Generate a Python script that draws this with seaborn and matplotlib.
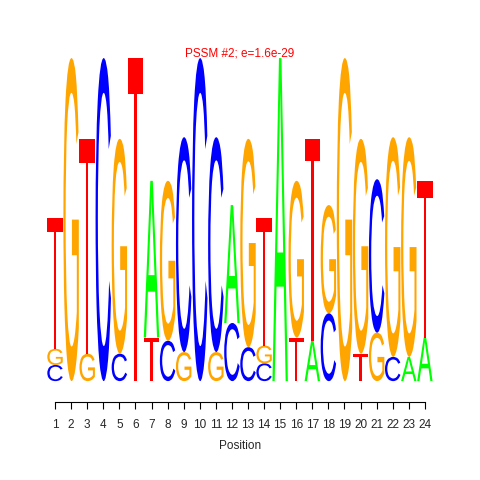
import matplotlib
matplotlib.use("Agg")
import matplotlib.pyplot as plt
import seaborn as sns
from matplotlib.textpath import TextPath
from matplotlib.patches import PathPatch
from matplotlib.font_manager import FontProperties
from matplotlib.transforms import Affine2D

# motif columns, letters listed bottom -> top with their heights in bits
positions = list(range(1, 25))
stack_letters = ["CGT", "G", "GT", "C", "CG", "T", "TA", "CG", "GC", "C", "GC", "CA",
                 "CG", "CGT", "A", "TG", "AT", "CG", "G", "TG", "GC", "CG", "AG", "AT"]
stack_bits = [
    [0.10, 0.10, 0.81], [2.0], [0.17, 1.33], [2.0], [0.17, 1.33], [2.0],
    [0.27, 0.97], [0.25, 0.99], [0.18, 1.33], [2.0], [0.18, 1.33], [0.36, 0.73],
    [0.21, 1.29], [0.11, 0.11, 0.79], [2.0], [0.27, 0.97], [0.25, 1.25], [0.42, 0.67],
    [2.0], [0.17, 1.33], [0.30, 0.95], [0.15, 1.36], [0.15, 1.36], [0.27, 0.97],
]
base_colors = {"A": "#00FF00", "C": "#0000FF", "G": "#FFA500", "T": "#FF0000"}
title_text = "PSSM #2; e=1.6e-29"

sns.set_style("white")
plt.rcParams['font.family'] = ['Liberation Sans', 'DejaVu Sans']

fig = plt.figure(figsize=(4.8, 4.8), dpi=100)
ax = fig.add_axes([0.0979, 0.206, 0.804, 0.673])

glyph_font = FontProperties(family="Liberation Sans", weight="normal")


def draw_letter(ax, ch, x, y0, h, w=0.96):
    tp = TextPath((0, 0), ch, size=1, prop=glyph_font)
    ext = tp.get_extents()
    tr = (Affine2D().translate(-ext.x0, -ext.y0)
          .scale(w / ext.width, h / ext.height)
          .translate(x - w / 2, y0))
    ax.add_patch(PathPatch(tr.transform_path(tp), facecolor=base_colors[ch],
                           edgecolor='none', clip_on=False))


for pos, letters, bits in zip(positions, stack_letters, stack_bits):
    y = 0.0
    for ch, h in zip(letters, bits):
        draw_letter(ax, ch, pos, y, h)
        y += h

ax.set_xlim(0.5, 24.5)
ax.set_ylim(0, 2)
for side in ['left', 'right', 'top']:
    ax.spines[side].set_visible(False)
ax.spines['bottom'].set_position(('outward', 15))
ax.spines['bottom'].set_bounds(1, 24)
ax.spines['bottom'].set_color('black')
ax.spines['bottom'].set_linewidth(0.8)
ax.set_yticks([])
ax.set_xticks(positions)
ax.set_xticklabels([str(p) for p in positions])
ax.tick_params(axis='x', direction='out', length=5, width=0.8, color='black',
               labelsize=8.5, pad=7, bottom=True)
ax.set_xlabel("Position", fontsize=8.5, labelpad=7)

fig.text(0.5, 0.889, title_text, color='red', fontsize=8.5, ha='center', va='center')

fig.savefig("out.png", dpi=100)
